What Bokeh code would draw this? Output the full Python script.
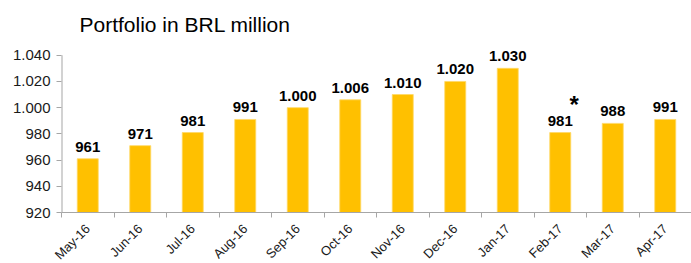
import math
from bokeh.plotting import figure
from bokeh.models import ColumnDataSource, LabelSet, Label, FixedTicker, Range1d
from bokeh.core.properties import value
from bokeh.embed import file_html
from bokeh.resources import INLINE

months = ["May-16", "Jun-16", "Jul-16", "Aug-16", "Sep-16", "Oct-16",
          "Nov-16", "Dec-16", "Jan-17", "Feb-17", "Mar-17", "Apr-17"]
portfolio = [961, 971, 981, 991, 1000, 1006, 1010, 1020, 1030, 981, 988, 991]
y_ticks = [920, 940, 960, 980, 1000, 1020, 1040]
title_text = "Portfolio in BRL million"
note_month = "Feb-17"


def br_fmt(v):
    return f"{v:,.0f}".replace(",", ".")


FONT = "Liberation Sans"
GOLD = "#FFC000"
AXIS = "#A6A6A6"

# headroom above the last tick so the value labels are not clipped
y_lo, y_hi = y_ticks[0], y_ticks[-1]
headroom = 12
px_per_unit = 157 / (y_hi - y_lo)

centers = [i + 0.5 for i in range(len(months))]
source = ColumnDataSource(dict(
    x=centers,
    top=portfolio,
    label=[br_fmt(v) for v in portfolio],
))

p = figure(
    output_backend="svg", toolbar_location=None,
    frame_width=630, frame_height=round((y_hi - y_lo + headroom) * px_per_unit),
    x_range=Range1d(0, len(months)), y_range=Range1d(y_lo, y_hi + headroom),
    min_border_left=61, min_border_top=55 - round(headroom * px_per_unit),
    min_border_right=0, min_border_bottom=51,
    title=title_text,
)
p.outline_line_color = None
p.grid.visible = False
p.background_fill_color = "white"
p.border_fill_color = "white"

p.title.text_font = FONT
p.title.text_font_size = "21px"
p.title.text_font_style = "normal"
p.title.text_color = "#000000"
p.title.align = "left"
p.title.offset = 18
p.title.standoff = 8

p.vbar(x="x", top="top", bottom=y_lo, width=0.4, source=source,
       fill_color=GOLD, line_color="#FFD966", line_width=0.8)

# y axis line drawn only up to the last tick
p.segment(x0=[0], y0=[y_lo], x1=[0], y1=[y_hi], line_color=AXIS, line_width=2)

labels = LabelSet(x="x", y="top", text="label", source=source,
                  text_align="center", text_baseline="bottom", y_offset=7,
                  text_font=value(FONT), text_font_size=value("15px"),
                  text_font_style="bold", text_color="#000000")
p.add_layout(labels)

fi = months.index(note_month)
p.add_layout(Label(x=centers[fi], y=portfolio[fi], text="*", x_offset=14, y_offset=15,
                   text_font=FONT, text_font_size="24px", text_font_style="bold",
                   text_color="#000000", text_baseline="bottom", text_align="center"))

# y axis
p.yaxis.ticker = FixedTicker(ticks=y_ticks)
p.yaxis.major_label_overrides = {t: br_fmt(t) for t in y_ticks}
p.yaxis.axis_line_color = None
p.yaxis.major_tick_line_color = AXIS
p.yaxis.major_tick_out = 5
p.yaxis.major_tick_in = 0
p.yaxis.minor_tick_line_color = None
p.yaxis.major_label_text_font = FONT
p.yaxis.major_label_text_font_size = "15px"
p.yaxis.major_label_text_color = "#1a1a1a"
p.yaxis.major_label_standoff = 6

# x axis: labels at centres, tick marks at category boundaries
p.xaxis.ticker = FixedTicker(ticks=centers, minor_ticks=list(range(len(months) + 1)))
p.xaxis.major_label_overrides = {c: m for c, m in zip(centers, months)}
p.xaxis.major_label_orientation = math.pi / 4
p.xaxis.axis_line_color = AXIS
p.xaxis.major_tick_line_color = None
p.xaxis.minor_tick_line_color = AXIS
p.xaxis.minor_tick_out = 5
p.xaxis.minor_tick_in = 0
p.xaxis.major_label_text_font = FONT
p.xaxis.major_label_text_font_size = "13px"
p.xaxis.major_label_text_color = "#1a1a1a"
p.xaxis.major_label_standoff = 8

open("out.html", "w").write(file_html(p, INLINE))
